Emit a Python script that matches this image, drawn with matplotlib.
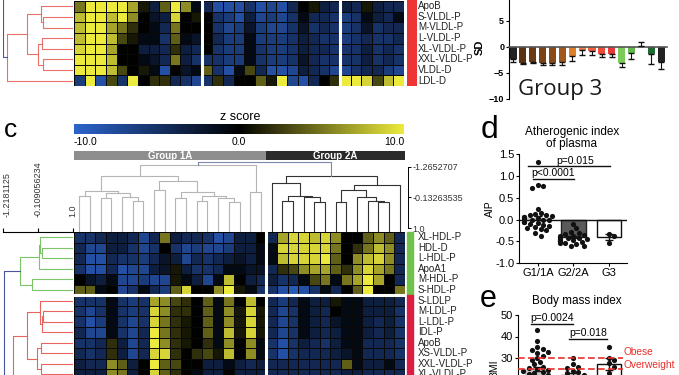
import numpy as np
import matplotlib
matplotlib.use("Agg")
import matplotlib.pyplot as plt
from matplotlib.colors import LinearSegmentedColormap, Normalize
from matplotlib.cm import ScalarMappable

plt.rcParams['font.family'] = ['Liberation Sans', 'DejaVu Sans']

W, H = 679, 375

# ---------------- data ----------------
top_labels = ["ApoB", "S-VLDL-P", "M-VLDL-P", "L-VLDL-P", "XL-VLDL-P", "XXL-VLDL-P", "VLDL-D", "LDL-D"]
top_z = [
    [5, 10, 10, 10, 10, 7, 1, -3, 4, 10, 6, -1, -4, -8, -8, -8, -5, -8, -7, -8, -4, 0, 1, -3, -4, -3, -4, 1, -3, -4, -4],
    [8, 10, 10, 8, 10, 6, 0, -2, -3, 9, 0, 1, 0, -5, -6, -8, -3, -7, -6, -7, -5, -1, -4, -4, -5, -6, -5, -1, -3, -4, -1],
    [8, 10, 10, 7, 5, 2, 0, -1, -4, 5, 0, 0, 0, -5, -7, -6, -2, -6, -7, -7, -5, -2, -5, -4, -5, -6, -5, -2, -5, -4, -4],
    [8, 10, 10, 8, 3, 1, -1, -1, -5, 4, -1, -2, 0, -4, -6, -6, -1, -6, -6, -6, -5, -3, -4, -5, -5, -6, -5, -4, -5, -5, -4],
    [9, 10, 10, 7, 0, 0, -3, -3, -4, 2, -3, -4, 0, -5, -6, -6, -1, -5, -6, -6, -5, -3, -4, -4, -5, -5, -5, -3, -5, -4, -5],
    [10, 10, 10, 8, 0, 0, -1, -2, -4, 5, -3, -5, -5, -5, -6, -6, -1, -5, -6, -6, -5, -2, -4, -5, -5, -5, -5, -3, -5, -4, -5],
    [10, 10, 10, 8, 3, 0, 1, -1, -8, 0, -2, -1, 4, -5, -8, -1, 3, -4, -8, -8, -7, -3, -4, -5, -7, -7, -5, -4, -4, -6, -7],
    [-6, 10, -8, 3, -5, 10, 0, 2, 2, -4, -5, -7, -5, 2, -4, 0, 0, 4, 1, 10, -7, -8, -4, 0, 2, 10, 10, 9, 3, 8, 10],
]
top_groups = [12, 13, 6]

mid_labels = ["XL-HDL-P", "HDL-D", "L-HDL-P", "ApoA1", "M-HDL-P", "S-HDL-P",
              "S-LDLP", "M-LDL-P", "L-LDL-P", "IDL-P", "ApoB", "XS-VLDL-P", "XXL-VLDL-P", "XL-VLDL-P"]
mid_z = [
    [-5, -5, -4, -3, -3, -4, -7, -4, 5, -3, -4, -4, -5, -8, -7, -3, -3, 0, -4, 7, 9, 9, 8, 9, 6, 0, 0, 4, 6, 4, -4],
    [-4, -7, -7, -3, -3, -5, -7, -5, 0, -5, -7, -6, -7, -7, -6, -3, -3, -1, -1, 9, 9, 9, 9, 9, 5, 0, 2, 5, 8, 6, -4],
    [-4, -8, -8, -4, -5, -5, -6, -4, -2, -3, -7, -4, -5, -4, -3, -2, -3, -1, -1, 8, 9, 9, 9, 10, 4, 0, 6, 8, 9, 6, -4],
    [-5, -8, -8, -4, -8, -7, -7, -3, -2, 1, -3, -5, -5, -4, -1, -1, -2, -2, -4, 2, 3, 6, 7, 7, 4, 2, 6, 9, 7, 5, -4],
    [0, -2, -3, -1, -7, -7, -6, -7, -7, 1, -1, -3, -7, -1, 8, 0, -3, -4, -3, -5, -4, -1, 3, 5, -1, 5, 7, 10, 7, 0, -4],
    [4, 4, -1, 0, -7, -5, -1, -4, -6, 4, 9, 0, 0, 6, 10, 1, -1, -5, -5, -8, -9, -8, -5, -1, -4, 0, 4, 10, 0, 0, 5],
    [-5, -5, -5, -1, -5, -6, -5, 7, 6, 3, 2, 0, 4, -1, 5, 0, 8, 0, -4, -6, -4, -1, -3, -3, 1, -1, -1, -3, -3, -3, -4],
    [-5, -7, -5, -1, -5, -6, -5, 9, 6, 2, 2, 0, 4, -1, 6, 1, 9, 1, -4, -7, -5, -1, -3, -4, 0, -1, -1, -3, -3, -3, -5],
    [-5, -8, -6, -1, -5, -7, -5, 9, 5, 2, 1, 0, 4, -1, 6, 1, 9, 1, -4, -7, -5, -1, -3, -4, -2, -1, -1, -3, -4, -3, -5],
    [-4, -7, -7, -1, -5, -7, -4, 10, 5, 2, 1, 0, 4, -1, 8, 1, 9, 1, -4, -7, -5, -1, -3, -4, -3, -1, -1, -3, -4, -3, -5],
    [-5, -5, -4, 2, -3, -7, -4, 10, 6, 2, 1, 0, 2, -1, 6, 0, 6, -1, -5, -8, -5, -3, -4, -5, -3, -1, -1, -4, -4, -4, -5],
    [-4, -5, -4, 2, -3, -7, -4, 9, 9, 2, 0, 2, 3, 1, 8, 0, 6, -1, -5, -8, -5, -4, -4, -4, -3, -2, -1, -4, -4, -4, -5],
    [-3, -4, -4, 6, 4, -3, 0, 10, 4, 3, 0, 0, -3, -3, -1, -3, -4, -3, -4, -4, -4, -4, -4, -4, -4, 4, -1, -3, -3, -1, -4],
    [-3, -3, -3, 6, 5, -3, 0, 9, 4, 2, 0, -1, -3, -3, 0, -3, -3, -3, -4, -4, -4, -4, -4, -4, -4, -3, -3, -4, -4, -4, -4],
]
mid_groups = ["Group 1A", "Group 2A"]
mid_group_sizes = [18, 13]
mid_row_blocks = [6, 8]

# dendrograms: (height, left, right[, colour]); ints are leaf indices,
# indices outside the heatmap are rows lying beyond the cropped edge
top_row_tree = (-1.207, -4,
                (-1.08, (-0.47, (0.0, 0, (0.05, 1, 2)), (-0.1, (0.02, 3, 4), (0.05, 5, 6))), 7, '#e8706a'),
                '#4a55a0')
col_tree = (-1.43,
            (-1.33,
             (-0.93,
              (-0.37, (-0.2, 0, 1), (-0.3, (-0.1, 2, 3), (-0.15, 4, (0.0, 5, 6)))),
              (-0.74, (-0.4, 7, 8), (-0.35, (-0.1, 9, 10), (-0.2, (0.0, 11, 12), (-0.1, 13, (0.05, 14, 15)))))),
             (-0.32, 16, 17), '#b5b5b5'),
            (-0.93,
             (-0.66, 18, (-0.2, (-0.02, 19, 20), (-0.14, 21, (0.03, 22, 23)))),
             (-0.59, (-0.4, (0.03, 24, 25), (-0.14, 26, (0.0, 27, (0.05, 28, 29)))), 30), '#333333'),
            '#7d86b0')
mid_row_tree = (-1.19,
                (-0.68, (-0.07, (-0.045, 0, (0.008, 1, 2)), 3), (-0.31, 4, 5), '#7cc36a'),
                (-0.89,
                 (-0.47, (-0.045, 6, (0.02, (0.06, 7, 8), 9)), (-0.15, (0.0, 10, 11), (0.0, 12, 13))),
                 (-0.3, (-0.1, (0.0, 14, 15), (0.0, 16, 17)), (-0.15, (0.0, 18, 19), (0.0, 20, 21))),
                 '#e8655f'),
                '#4a55a0')
col_ticks = [-1.2652707, -0.13263535, 1.0]
col_ticklabels = ["-1.2652707", "-0.13263535", "1.0"]
row_ticks = [-1.2181125, -0.109056234, 1.0]
row_ticklabels = ["-1.2181125", "-0.109056234", "1.0"]

sd_vals = [-2.3, -3.0, -2.8, -3.1, -3.1, -2.8, -1.8, -0.6, -0.7, -1.3, -1.4, -3.1, -1.2, 0.2, -1.3, -2.9]
sd_err = [0.6, 0.2, 0.2, 0.3, 0.3, 0.6, 0.9, 0.9, 0.8, 0.6, 0.5, 0.8, 1.1, 0.8, 2.0, 1.3]
sd_colors = ['#222222', '#5b3311', '#6b3a13', '#7a4215', '#8a4a18', '#a0561c', '#e07f2a', '#ef7f4a',
             '#f0603e', '#ee4a3a', '#e8383a', '#7ccb5a', '#62b84c', '#dddddd', '#1e6a34', '#222222']

grp = ["G1/1A", "G2/2A", "G3"]
aip_g1 = [1.33, 0.80, 0.78, 0.72, 0.25, 0.15, 0.12, 0.10, 0.10, 0.08, 0.05, 0.05, 0.03, 0.02, 0.0, 0.0,
          -0.02, -0.05, -0.05, -0.08, -0.1, -0.12, -0.15, -0.18, -0.2, -0.22, -0.25, -0.3, -0.38]
aip_g2 = [-0.1, -0.2, -0.28, -0.3, -0.33, -0.35, -0.37, -0.38, -0.4, -0.4, -0.42, -0.43, -0.45, -0.45,
          -0.47, -0.48, -0.5, -0.5, -0.52, -0.53, -0.55, -0.57, -0.6, -0.62]
aip_g3 = [-0.33, -0.38, -0.55]
aip_mean = [0.03, -0.4, -0.41]
aip_sem = [0.05, 0.03, 0.07]

bmi_g1 = [43, 38, 35, 34, 33.5, 33, 32.5, 31, 30, 29, 28, 27, 26, 25.5, 25, 24.5, 24, 23.5, 23, 22.5, 22, 21, 20, 19]
bmi_g2 = [30, 27, 26, 25.5, 24, 23.5, 23, 22, 21, 20, 19]
bmi_g3 = [35, 30, 29, 27.5, 26, 23]
bmi_mean = [25, 22, 27]
bmi_sem = [1.0, 1.0, 2.8]
bmi_cuts = [30, 25]
bmi_cut_names = ["Obese", "Overweight"]

zcmap = LinearSegmentedColormap.from_list("zs", ['#2c64cc', '#000000', '#ecea3c'])

fig = plt.figure(figsize=(W / 100, H / 100), dpi=100)


def box(x0, y0, x1, y1):
    return fig.add_axes([x0 / W, 1 - y1 / H, (x1 - x0) / W, (y1 - y0) / H])


def draw_tree(ax, node, color, leaf_h, horiz, lw=0.8):
    if isinstance(node, int):
        return node + 0.5, leaf_h
    h, a, b = node[:3]
    c = node[3] if len(node) > 3 else color
    pa, ha = draw_tree(ax, a, c, leaf_h, horiz, lw)
    pb, hb = draw_tree(ax, b, c, leaf_h, horiz, lw)
    pos = [pa, pa, pb, pb]; hts = [ha, h, h, hb]
    if horiz: ax.plot(hts, pos, color=c, lw=lw)
    else: ax.plot(pos, hts, color=c, lw=lw)
    return (pa + pb) / 2, h


def heat(ax, z, vseps, hseps):
    z = np.array(z)
    ax.pcolormesh(np.arange(z.shape[1] + 1), np.arange(z.shape[0] + 1), z, cmap=zcmap, vmin=-10, vmax=10,
                  edgecolors='#080808', linewidth=0.7)
    for v in vseps: ax.axvline(v, color='white', lw=2.2)
    for v in hseps: ax.axhline(v, color='white', lw=2.2)
    ax.set_xlim(0, z.shape[1]); ax.set_ylim(z.shape[0], 0); ax.axis('off')


def swarm(vals, xs, ys, d=5.0):
    placed, out = [], []
    for v in vals:
        y = v * ys
        for k in [0, 1, -1, 2, -2, 3, -3, 4, -4, 5, -5]:
            x = k * d * 0.55
            if all((x - px) ** 2 + (y - py) ** 2 >= (d * 0.95) ** 2 for px, py in placed): break
        placed.append((x, y)); out.append(x / xs)
    return np.array(out)


# ---------------- top section (cropped panel) ----------------
ax = box(3, 0, 73, 86)
draw_tree(ax, top_row_tree, '#e8706a', 1.0, True)
ax.set_xlim(-1.218, 1.0); ax.set_ylim(8, -0.1); ax.axis('off')

ax = box(74, 0, 404, 86)
heat(ax, top_z, np.cumsum(top_groups)[:-1], [])
ax.set_ylim(8, -0.1)
ax = box(407, 0, 417, 86)
ax.axvspan(0, 1, color='#ee3434'); ax.set_xlim(0, 1); ax.axis('off')
for i, lab in enumerate(top_labels):
    fig.text(418 / W, 1 - (1 + 10.6 * (i + 0.5)) / H, lab, fontsize=7, va='center', color='#222222')

ax = box(509, -5, 667, 99)
ax.bar(range(len(sd_vals)), sd_vals, width=0.72, color=sd_colors, zorder=2)
lo = [e if v < 0 else 0 for v, e in zip(sd_vals, sd_err)]
hi = [e if v >= 0 else 0 for v, e in zip(sd_vals, sd_err)]
ax.errorbar(range(len(sd_vals)), sd_vals, yerr=[lo, hi], fmt='none', ecolor='#111111', elinewidth=0.8, capsize=2, zorder=3)
ax.set_xlim(-0.4, 15.6); ax.set_ylim(-10, 10)
ax.spines['bottom'].set_position(('data', 0)); ax.spines['bottom'].set_color('#555555'); ax.spines['bottom'].set_linewidth(1.2)
for s in ['top', 'right']: ax.spines[s].set_visible(False)
ax.set_xticks([]); ax.set_yticks([-10, -5, 0, 5])
ax.tick_params(axis='y', labelsize=6.5, length=2.5, pad=1)
for t in ax.get_yticklabels(): t.set_fontweight('bold')
ax.set_ylabel('SD', fontsize=8, fontweight='bold', labelpad=3)
fig.text(518 / W, 1 - 89 / H, 'Group 3', fontsize=16, va='center', family=['Open Sans', 'DejaVu Sans'], color='#1a1a1a')

# ---------------- panel c ----------------
fig.text(4 / W, 1 - 130 / H, 'c', fontsize=19, va='center')
fig.text(240 / W, 1 - 117 / H, 'z score', fontsize=9, ha='center', va='center')
cax = box(74, 124, 404, 134)
cb = fig.colorbar(ScalarMappable(Normalize(-10, 10), zcmap), cax=cax, orientation='horizontal')
cb.outline.set_visible(False); cax.set_xticks([])
fig.text(74 / W, 1 - 142 / H, '-10.0', fontsize=7.5, va='center', ha='left')
fig.text(239 / W, 1 - 142 / H, '0.0', fontsize=7.5, va='center', ha='center')
fig.text(404 / W, 1 - 142 / H, '10.0', fontsize=7.5, va='center', ha='right')

gax = box(74, 151, 405, 161)
left = 0
for name, n, c in zip(mid_groups, mid_group_sizes, ['#8e8e8e', '#2b2b2b']):
    gax.barh(0, n, left=left, height=1, color=c)
    gax.text(left + n / 2, 0, name, color='white', fontsize=7, fontweight='bold', ha='center', va='center')
    left += n
gax.set_xlim(0, sum(mid_group_sizes)); gax.set_ylim(-0.5, 0.5); gax.axis('off')

dax = box(74, 160, 405, 232)
draw_tree(dax, col_tree, '#b5b5b5', 1.136, False)
dax.set_xlim(0, 31); dax.set_ylim(1.136, -1.51)
for s in ['top', 'left', 'bottom']: dax.spines[s].set_visible(False)
dax.spines['right'].set_bounds(col_ticks[0], col_ticks[-1]); dax.spines['right'].set_linewidth(0.7)
dax.spines['right'].set_position(('outward', 2))
dax.set_xticks([]); dax.yaxis.tick_right()
dax.set_yticks(col_ticks, col_ticklabels)
dax.tick_params(axis='y', labelsize=6.5, length=2.5, width=0.7, pad=1, labelcolor='#333333')

nrows = len(mid_labels)
hax = box(74, 232, 405, 232 + 10.55 * nrows)
heat(hax, mid_z, np.cumsum(mid_group_sizes)[:-1], np.cumsum(mid_row_blocks)[:-1])
start = 0
for n, c in zip(mid_row_blocks, ['#6fc24a', '#dc1e44']):
    fig.add_artist(plt.Rectangle((407 / W, 1 - (232 + 10.55 * (start + n)) / H), 6 / W, 10.55 * n / H,
                                 color=c, transform=fig.transFigure))
    start += n
for i, lab in enumerate(mid_labels):
    fig.text(418 / W, 1 - (232 + 10.55 * (i + 0.5)) / H, lab, fontsize=7, va='center', color='#222222')

rax = box(3, 232, 73, 232 + 10.55 * 24)
draw_tree(rax, mid_row_tree, '#e8655f', 1.0, True)
rax.set_xlim(-1.2181125, 1.0); rax.set_ylim(24, 0)
for s in ['bottom', 'left', 'right']: rax.spines[s].set_visible(False)
rax.spines['top'].set_linewidth(0.8)
rax.set_yticks([]); rax.xaxis.tick_top()
rax.set_xticks(row_ticks, row_ticklabels, rotation=90)
rax.tick_params(axis='x', labelsize=6.5, length=3, width=0.8, pad=8, labelcolor='#333333')
rax.get_xticklabels()[0].set_horizontalalignment('left')

# ---------------- panel d ----------------
fig.text(489 / W, 1 - 130 / H, 'd', fontsize=23, ha='center', va='center')
fig.text(572 / W, 1 - 138 / H, 'Atherogenic index\nof plasma', fontsize=8.5, ha='center', va='center', linespacing=1.1)
ax = box(519, 154.3, 627, 263)
xs, ys = 35.5, 43.5
ax.bar(range(3), aip_mean, width=0.68, color=['#c9c9c9', '#5a5a5a', 'white'], edgecolor=['#c9c9c9', '#222222', '#111111'], lw=1, zorder=1)
ax.errorbar(range(3), aip_mean, yerr=aip_sem, fmt='none', ecolor='#111111', elinewidth=1, capsize=3, zorder=2)
for i, g in enumerate([aip_g1, aip_g2, aip_g3]):
    ax.scatter(i + swarm(g, xs, ys), g, s=14, color='#111111', zorder=3, lw=0)
ax.axhline(0, color='#111111', lw=1, zorder=2)
ax.plot([-0.14, 1.01], [0.94, 0.94], color='#111111', lw=1)
ax.text(0.43, 0.96, 'p<0.0001', fontsize=7.5, ha='center', va='bottom')
ax.plot([-0.28, 2.03], [1.22, 1.22], color='#111111', lw=1)
ax.text(1.04, 1.24, 'p=0.015', fontsize=7.5, ha='center', va='bottom')
ax.set_xlim(-0.535, 2.51); ax.set_ylim(-1.0, 1.5)
for s in ['top', 'right']: ax.spines[s].set_visible(False)
ax.set_yticks([-1.0, -0.5, 0.0, 0.5, 1.0, 1.5], ['-1.0', '-0.5', '0.0', '0.5', '1.0', '1.5'])
ax.set_xticks(range(3), grp)
ax.tick_params(labelsize=8, length=2.5, pad=1)
ax.set_ylabel('AIP', fontsize=7.5, labelpad=0)

# ---------------- panel e ----------------
fig.text(488 / W, 1 - 299 / H, 'e', fontsize=22, ha='center', va='center')
fig.text(577 / W, 1 - 301 / H, 'Body mass index', fontsize=8.5, ha='center', va='center')
ax = box(518, 315, 627, 422.5)
xs, ys = 35.5, 2.15
ax.bar(range(3), bmi_mean, width=0.68, color=['#c9c9c9', '#5a5a5a', 'white'], edgecolor=['#c9c9c9', '#222222', '#111111'], lw=1, zorder=1)
ax.errorbar(range(3), bmi_mean, yerr=bmi_sem, fmt='none', ecolor='#111111', elinewidth=1, capsize=3, zorder=2)
for i, g in enumerate([bmi_g1, bmi_g2, bmi_g3]):
    ax.scatter(i + swarm(g, xs, ys), g, s=14, color='#111111', zorder=3, lw=0)
for v, name, dy in zip(bmi_cuts, bmi_cut_names, [2.8, 1.6]):
    ax.axhline(v, xmax=0.96, color='#e8302a', lw=1.2, ls=(0, (4, 2)), zorder=4)
    ax.text(2.4, v + dy, name, color='#e8302a', fontsize=7.3, va='center', clip_on=False)
ax.plot([-0.17, 0.99], [45.8, 45.8], color='#111111', lw=1)
ax.text(0.41, 46.3, 'p=0.0024', fontsize=7.5, ha='center', va='bottom')
ax.plot([0.9, 1.94], [38.8, 38.8], color='#111111', lw=1)
ax.text(1.42, 39.3, 'p=0.018', fontsize=7.5, ha='center', va='bottom')
ax.set_xlim(-0.535, 2.51); ax.set_ylim(0, 50)
for s in ['top', 'right']: ax.spines[s].set_visible(False)
ax.set_yticks([30, 40, 50]); ax.set_xticks([])
ax.tick_params(labelsize=8, length=2.5, pad=1)
ax.set_ylabel('BMI', fontsize=7.5, labelpad=1)

fig.savefig('out.png', dpi=100)
